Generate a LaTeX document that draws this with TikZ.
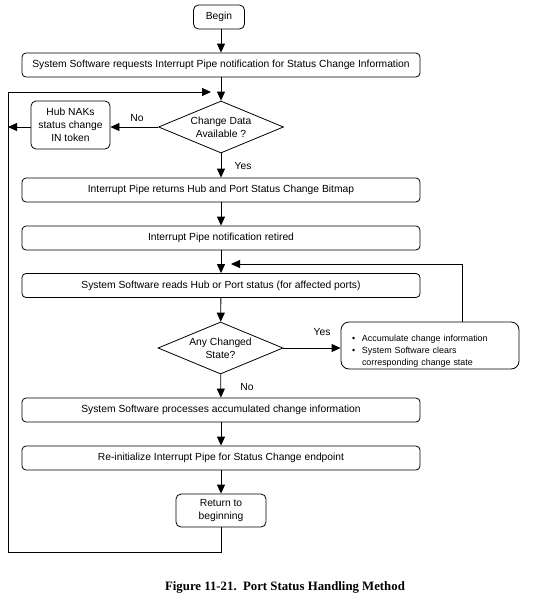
\documentclass[tikz,border=0pt]{standalone}
\usepackage{fontspec}
\setmainfont{Liberation Sans}
\newfontfamily\capfont{Liberation Serif}
\usetikzlibrary{arrows.meta,shapes.geometric}
\begin{document}
\begin{tikzpicture}[x=1pt,y=-1pt,
  every node/.style={font=\fontsize{10.3}{12.7}\selectfont},
  box/.style={draw,rounded corners=4pt,line width=0.8pt,inner sep=0pt,minimum width=398pt,minimum height=24pt},
  smallbox/.style={draw,rounded corners=5pt,line width=0.8pt,inner sep=0pt,align=center},
  dec/.style={draw,diamond,aspect=2.4,line width=0.8pt,inner sep=0pt,minimum width=125pt,minimum height=52pt,align=center},
  flow/.style={line width=0.8pt,-{Triangle[length=9pt,width=8pt]}},
  lbl/.style={inner sep=0pt}]
\useasboundingbox (0,0) rectangle (543,595);

\node[smallbox,minimum width=51pt,minimum height=24pt] (begin) at (219,17) {Begin};
\node[box] (b1) at (221,65) {System Software requests Interrupt Pipe notification for Status Change Information};
\node[dec] (d1) at (221,127) {Change Data\\Available ?};
\node[smallbox,minimum width=79pt,minimum height=48pt] (hub) at (70.5,125) {Hub NAKs\\status change\\IN token};
\node[box] (b2) at (221,190) {Interrupt Pipe returns Hub and Port Status Change Bitmap};
\node[box] (b3) at (221,238) {Interrupt Pipe notification retired};
\node[box] (b4) at (221,285.5) {System Software reads Hub or Port status (for affected ports)};
\node[dec] (d2) at (220.5,348) {Any Changed\\State?};
\node[draw,rounded corners=8pt,line width=0.8pt,inner ysep=0pt,inner xsep=11pt,text width=156pt,minimum height=47pt,align=left,font=\fontsize{8.9}{12}\selectfont] (info) at (430,345.5)
  {\rule{0pt}{18pt}\makebox[10pt][l]{•}Accumulate change information\\\makebox[10pt][l]{•}System Software clears\\\hspace*{10pt}corresponding change state};
\node[box] (b5) at (221,410) {System Software processes accumulated change information};
\node[box] (b6) at (221,458) {Re-initialize Interrupt Pipe for Status Change endpoint};
\node[smallbox,minimum width=90pt,minimum height=33pt] (ret) at (221,510.5) {Return to\\beginning};

\node[lbl] (no1) at (137,118) {No};
\node[lbl] (yes1) at (243,166) {Yes};
\node[lbl] (yes2) at (322,332) {Yes};
\node[lbl] (no2) at (247,387) {No};

\coordinate (lb) at (8,552);
\coordinate (lt) at (8,92);
\coordinate (lend) at (211,92);
\coordinate (fbc) at (462,264);
\coordinate (fb) at (231,264);

\draw[flow] (begin.south -| b1.north) -- (b1.north);
\draw[flow] (b1) -- (d1);
\draw[flow] (d1.west) -- (hub.east |- d1.west);
\draw[flow] (hub.west |- d1.west) -- (lt |- d1.west);
\draw[flow] (d1) -- (b2);
\draw[flow] (b2) -- (b3);
\draw[flow] (b3) -- (b4);
\draw[flow] (b4) -- (d2);
\draw[flow] (d2.east) -- (d2.east -| info.west);
\draw[flow] (info.north -| fbc) -- (fbc) -- (fb);
\draw[flow] (d2) -- (b5);
\draw[flow] (b5) -- (b6);
\draw[flow] (b6) -- (ret);
\draw[flow] (ret.south) |- (lb) -- (lt) -- (lend);

\node[font=\capfont\bfseries\fontsize{12.8}{15}\selectfont] (cap) at (285,587) {Figure 11-21.\ \ Port Status Handling Method};
\end{tikzpicture}
\end{document}
